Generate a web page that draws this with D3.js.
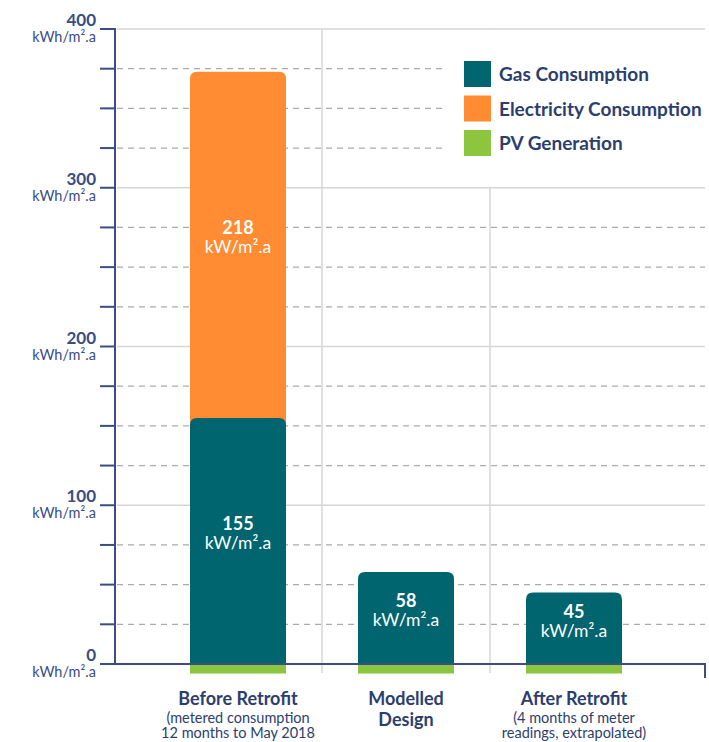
<!DOCTYPE html>
<html><head><meta charset="utf-8">
<script src="https://cdn.jsdelivr.net/npm/d3@7"></script>
<style>
html,body{margin:0;padding:0;background:#fff;}
svg{display:block;font-family:Lato,"Open Sans",sans-serif;}
</style></head>
<body>
<svg id="chart" width="709" height="742"></svg>
<script>
const categories = ["Before Retrofit", "Modelled Design", "After Retrofit"];
const categoryTitle = [["Before Retrofit"], ["Modelled", "Design"], ["After Retrofit"]];
const categorySub = [["(metered consumption", "12 months to May 2018"], [], ["(4 months of meter", "readings, extrapolated)"]];
const gasValues = [155, 58, 45];
const electricityValues = [218, 0, 0];
const pvValues = [-6, -6, -6];
const seriesNames = ["Gas Consumption", "Electricity Consumption", "PV Generation"];
const majorTicks = [0, 100, 200, 300, 400];
const minorTicks = [25, 50, 75, 125, 150, 175, 225, 250, 275, 325, 350, 375];
const unitLabel = "kWh/m\u00B2.a";
const barUnitLabel = "kW/m\u00B2.a";

const colors = {gas:"#00656f", elec:"#ff8c32", pv:"#8cc63f", navy:"#2c3e6e", axis:"#3a4d85", grid:"#d6d6d6", dash:"#ababab"};

const svg = d3.select("#chart");
const y = d3.scaleLinear().domain([0, 400]).range([664, 29]);
const x = d3.scaleBand().domain(categories).range([154, 658]).paddingInner(72/168).paddingOuter(36/168);
const axisX = 115, rightX = 705;

// minor dashed grid
svg.append("g").selectAll("line").data(minorTicks).join("line")
  .attr("x1", axisX + 2).attr("x2", rightX)
  .attr("y1", d => y(d)).attr("y2", d => y(d))
  .attr("stroke", colors.dash).attr("stroke-width", 1.2).attr("stroke-dasharray", "6,5");
// major solid grid
svg.append("g").selectAll("line").data(majorTicks.filter(d => d > 0)).join("line")
  .attr("x1", axisX + 2).attr("x2", rightX)
  .attr("y1", d => y(d)).attr("y2", d => y(d))
  .attr("stroke", colors.grid).attr("stroke-width", 1.5);

// separators between categories
const seps = [ (x(categories[0]) + x.bandwidth() + x(categories[1])) / 2, (x(categories[1]) + x.bandwidth() + x(categories[2])) / 2 ];
svg.append("g").selectAll("line").data(seps).join("line")
  .attr("x1", d => d).attr("x2", d => d)
  .attr("y1", y(400)).attr("y2", y(0) + 9)
  .attr("stroke", colors.grid).attr("stroke-width", 1.5);

// legend background
svg.append("rect").attr("x", 447).attr("y", y(400) + 1).attr("width", 709 - 447).attr("height", y(300) - y(400) - 2).attr("fill", "#fff");

// legend
const legendColors = [colors.gas, colors.elec, colors.pv];
const lg = svg.append("g").selectAll("g").data(seriesNames).join("g")
  .attr("transform", (d, i) => `translate(464, ${61 + i * 34.5})`);
lg.append("rect").attr("width", 27).attr("height", 26).attr("fill", (d, i) => legendColors[i]);
lg.append("text").attr("x", 35).attr("y", 20).text(d => d)
  .attr("font-size", 19).attr("font-weight", 700).attr("fill", colors.navy);

// rounded-top path
function topRounded(x0, w, yTop, yBot, r) {
  return `M${x0},${yBot}V${yTop + r}Q${x0},${yTop} ${x0 + r},${yTop}H${x0 + w - r}Q${x0 + w},${yTop} ${x0 + w},${yTop + r}V${yBot}Z`;
}
const r = 7;
const bars = svg.append("g");
categories.forEach((c, i) => {
  const bx = x(c), bw = x.bandwidth();
  const gasTop = gasValues[i];
  const total = gasValues[i] + electricityValues[i];
  if (electricityValues[i] > 0) {
    bars.append("path").attr("d", topRounded(bx, bw, y(total), y(gasTop) + r + 2, r)).attr("fill", colors.elec);
  }
  bars.append("path").attr("d", topRounded(bx, bw, y(gasTop), y(0), r)).attr("fill", colors.gas);
  bars.append("rect").attr("x", bx).attr("width", bw).attr("y", y(0)).attr("height", y(pvValues[i]) - y(0)).attr("fill", colors.pv);
});

// value labels
const labels = [];
categories.forEach((c, i) => {
  labels.push({c, v: gasValues[i], mid: (y(0) + y(gasValues[i])) / 2});
  if (electricityValues[i] > 0) labels.push({c, v: electricityValues[i], mid: (y(gasValues[i]) + y(gasValues[i] + electricityValues[i])) / 2});
});
const lbl = svg.append("g").selectAll("g").data(labels).join("g")
  .attr("transform", d => `translate(${x(d.c) + x.bandwidth() / 2}, ${d.mid})`);
lbl.append("text").attr("text-anchor", "middle").attr("y", -10.5).text(d => d.v)
  .attr("font-size", 18).attr("font-weight", 700).attr("fill", "#fff");
lbl.append("text").attr("text-anchor", "middle").attr("y", 8.5).text(barUnitLabel)
  .attr("font-size", 17.5).attr("fill", "#fff");

// y axis
svg.append("line").attr("x1", axisX).attr("x2", axisX).attr("y1", y(400) - 1).attr("y2", y(0) + 1)
  .attr("stroke", colors.axis).attr("stroke-width", 2);
svg.append("g").selectAll("line").data(majorTicks.concat(minorTicks)).join("line")
  .attr("x1", 100).attr("x2", axisX).attr("y1", d => y(d)).attr("y2", d => y(d))
  .attr("stroke", colors.axis).attr("stroke-width", 2);
const yl = svg.append("g").selectAll("g").data(majorTicks).join("g")
  .attr("transform", d => `translate(96, ${y(d)})`);
yl.append("text").attr("text-anchor", "end").attr("y", -3).text(d => d)
  .attr("font-size", 17).attr("font-weight", 700).attr("fill", colors.axis);
yl.append("text").attr("text-anchor", "end").attr("y", 13).text(unitLabel)
  .attr("font-size", 14.5).attr("fill", colors.axis);

// x axis
svg.append("path").attr("d", `M${axisX - 1},${y(0)}H${rightX}V${y(0) + 14}`)
  .attr("fill", "none").attr("stroke", colors.axis).attr("stroke-width", 2);

// category labels
const cl = svg.append("g").selectAll("g").data(categories).join("g")
  .attr("transform", d => `translate(${x(d) + x.bandwidth() / 2}, 705)`);
cl.each(function(d, i) {
  const g = d3.select(this);
  categoryTitle[i].forEach((t, k) => g.append("text").attr("text-anchor", "middle").attr("y", k * 20.5).text(t)
    .attr("font-size", 18).attr("font-weight", 700).attr("fill", colors.navy));
  categorySub[i].forEach((t, k) => g.append("text").attr("text-anchor", "middle").attr("y", 17.5 + k * 15.5).text(t)
    .attr("font-size", 14.5).attr("fill", colors.navy));
});
</script>
</body></html>
